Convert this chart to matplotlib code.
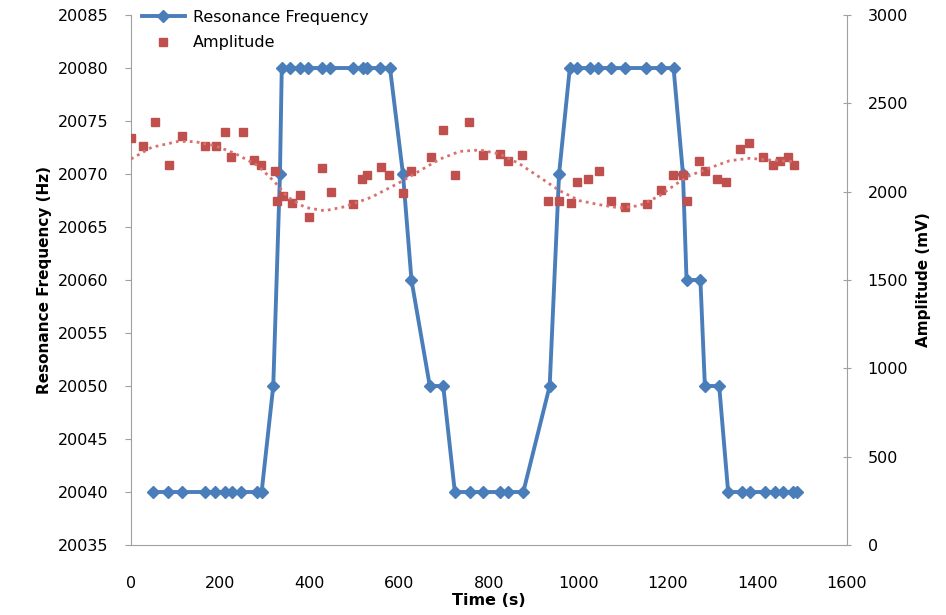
import numpy as np
import matplotlib.pyplot as plt

# resonance frequency (left axis)
time_freq = [50, 83, 113, 165, 188, 210, 225, 247, 281, 292, 318, 333,
             337, 355, 378, 396, 426, 445, 497, 519, 527, 557, 579,
             608, 627, 668, 698, 724, 757, 787, 825, 843, 877, 936, 957,
             981, 996, 1026, 1044, 1074, 1104, 1152, 1186, 1213,
             1234, 1242, 1273, 1283, 1315, 1335, 1365, 1383, 1417, 1439, 1458, 1480, 1490]
freq = [20040, 20040, 20040, 20040, 20040, 20040, 20040, 20040, 20040, 20040, 20050, 20070,
        20080, 20080, 20080, 20080, 20080, 20080, 20080, 20080, 20080, 20080, 20080,
        20070, 20060, 20050, 20050, 20040, 20040, 20040, 20040, 20040, 20040, 20050, 20070,
        20080, 20080, 20080, 20080, 20080, 20080, 20080, 20080, 20080,
        20070, 20060, 20060, 20050, 20050, 20040, 20040, 20040, 20040, 20040, 20040, 20040, 20040]

# amplitude (right axis)
time_amp = [0, 26, 54, 86, 115, 165, 189, 210, 223, 250, 276, 290, 322, 326, 340,
            360, 378, 398, 428, 448, 497, 517, 527, 559, 577, 607, 625, 670, 697, 724,
            756, 787, 825, 843, 875, 933, 956, 983, 996, 1022, 1046, 1072, 1105, 1154, 1184,
            1211, 1234, 1242, 1269, 1283, 1311, 1331, 1361, 1381, 1412, 1435, 1452, 1469, 1482]
amp = [2303, 2256, 2392, 2153, 2315, 2258, 2258, 2336, 2199, 2336, 2178, 2153, 2119, 1949, 1977,
       1935, 1981, 1856, 2136, 1996, 1933, 2072, 2097, 2138, 2095, 1994, 2118, 2199, 2351, 2097,
       2392, 2210, 2214, 2176, 2210, 1949, 1949, 1935, 2053, 2072, 2118, 1949, 1914, 1931, 2011,
       2097, 2097, 1949, 2176, 2119, 2072, 2053, 2239, 2275, 2199, 2153, 2176, 2199, 2153]

# dotted trendline of the amplitude
trend_t = [0, 46, 106, 143, 188, 232, 284, 322, 351, 389, 433, 478, 537, 597, 646,
           691, 735, 780, 825, 869, 914, 958, 1003, 1048, 1092, 1137, 1182, 1219,
           1249, 1293, 1338, 1383, 1428, 1482]
trend_amp = [2185, 2251, 2285, 2283, 2260, 2217, 2147, 2053, 1968, 1911, 1892, 1915, 1968, 2047, 2119,
             2185, 2228, 2236, 2213, 2157, 2081, 2006, 1949, 1926, 1908, 1921, 1977, 2044,
             2091, 2134, 2175, 2189, 2179, 2170]

blue = '#4a7ebb'
red = '#c0504d'
grey = '#a0a0a0'

fig = plt.figure(figsize=(9.46, 6.15), dpi=100)
ax = fig.add_axes([0.1385, 0.1138, 0.7565, 0.8618])
ax2 = ax.twinx()

l1, = ax.plot(time_freq, freq, color=blue, lw=2.8, marker='D', ms=6.5, label='Resonance Frequency')
s1, = ax2.plot(time_amp, amp, ls='none', marker='s', ms=5.5, color=red, label='Amplitude')
ax2.plot(trend_t, trend_amp, ls=(0, (1, 1.5)), lw=2, color='#d9706d')

ax.set_xlim(0, 1600)
ax.set_ylim(20035, 20085)
ax.set_yticks(np.arange(20035, 20086, 5))
ax.set_xticks(np.arange(0, 1601, 200))
ax2.set_ylim(0, 3000)
ax2.set_yticks(np.arange(0, 3001, 500))

for a in (ax, ax2):
    a.spines['top'].set_visible(False)
    for s in a.spines.values():
        s.set_color(grey)
ax.spines['right'].set_visible(False)
ax2.spines['left'].set_visible(False)
ax2.spines['bottom'].set_visible(False)

ax.tick_params(axis='y', length=4, color=grey, labelsize=11.5, pad=12)
ax.tick_params(axis='x', length=0, labelsize=11.5, pad=22)
ax2.tick_params(axis='y', length=6, color=grey, direction='inout', labelsize=11.5, pad=12)

ax.set_xlabel('Time (s)', fontweight='bold', fontsize=11.5, labelpad=2)
ax.set_ylabel('Resonance Frequency (Hz)', fontweight='bold', fontsize=11)
ax2.set_ylabel('Amplitude (mV)', fontweight='bold', fontsize=11, labelpad=6)

fig.legend(handles=[l1, s1], loc='upper left', bbox_to_anchor=(0.150, 0.984),
           frameon=False, fontsize=11.5, handlelength=2.7, handletextpad=0.5,
           borderpad=0, borderaxespad=0, labelspacing=0.65)

plt.savefig('out.png', dpi=100)
